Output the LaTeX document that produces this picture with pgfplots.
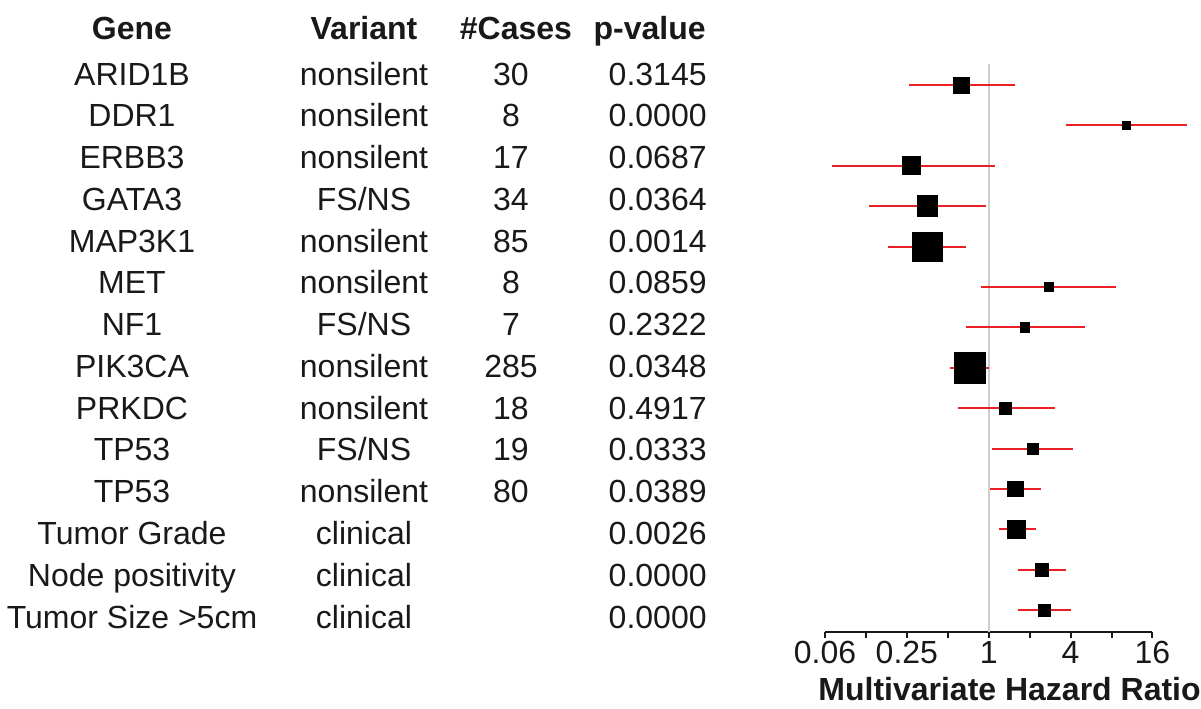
\documentclass[border=0pt]{standalone}
\usepackage{pgfplots}
\pgfplotsset{compat=1.18}
\usepackage{pgfplotstable}
\usepackage{fontspec}
\setmainfont{Liberation Sans}
\definecolor{ciRed}{RGB}{235,32,38}
\definecolor{refGray}{RGB}{205,205,205}
\definecolor{txt}{RGB}{25,25,25}

% y: row index (14 = top), est/lo/hi in log2(HR), sz = half side of square (pt)
\pgfplotstableread{
y   est    lo     hi     sz
14  -0.66  -1.94  0.65   4.0
13  3.37   1.895  4.85   2.0
12  -1.88  -3.82  0.16   4.5
11  -1.50  -2.93  -0.07  5.2
10  -1.50  -2.46  -0.55  7.3
9   1.46   -0.20  3.11   2.2
8   0.885  -0.55  2.34   2.3
7   -0.46  -0.95  0.00   7.8
6   0.41   -0.76  1.63   3.1
5   1.07   0.07   2.05   2.8
4   0.65   0.02   1.27   3.8
3   0.68   0.24   1.15   4.4
2   1.29   0.71   1.88   3.3
1   1.36   0.71   2.02   3.0
}\forest

\newcommand{\rowtxt}[5]{%
  \pgfmathsetmacro{\yy}{-(42.5+(#1-1)*20.885)}%
  \node[anchor=base,inner sep=0pt] at (66pt,\yy pt) {#2};
  \node[anchor=base,inner sep=0pt] at (182pt,\yy pt) {#3};
  \node[anchor=base,inner sep=0pt] at (255.5pt,\yy pt) {#4};
  \node[anchor=base east,inner sep=0pt] at (353.5pt,\yy pt) {#5};
}

\begin{document}
\begin{tikzpicture}[font=\fontsize{16}{19}\selectfont, text=txt]
\useasboundingbox (0,0) rectangle (600.5pt,-354pt);
\begin{axis}[
  at={(412.5pt,-316pt)}, anchor=south west,
  scale only axis,
  width=163.75pt, height=284pt,
  xmin=-4, xmax=4, ymin=0.463, ymax=14.52,
  clip=false,
  axis x line*=bottom, axis y line=none,
  axis line style={line width=1pt, txt},
  xtick={-4,-2,0,2,4},
  xticklabels={0.06,0.25,1,4,16},
  minor xtick={-3,-1,1,3},
  tick align=outside,
  major tick length=3pt, minor tick length=3pt,
  tick style={line width=1pt, txt},
  /pgf/number format/assume math mode=true,
  xticklabel style={font=\fontsize{16}{19}\selectfont, text=txt, anchor=base, inner sep=0pt, yshift=-12.5pt},
]
\addplot[refGray, line width=1pt] coordinates {(0,0.463) (0,14.52)};
\addplot[
  scatter, only marks, mark=square*,
  scatter/use mapped color={draw=black, fill=black},
  point meta=\thisrow{sz},
  visualization depends on={\thisrow{sz} \as \msz},
  scatter/@pre marker code/.append style={/tikz/mark size=\msz},
  error bars/.cd, x dir=both, x explicit,
  error mark=none,
  error bar style={ciRed, line width=1pt},
] table[x=est, y=y,
        x error plus expr=\thisrow{hi}-\thisrow{est},
        x error minus expr=\thisrow{est}-\thisrow{lo}] {\forest};
\end{axis}
\node[anchor=base west, inner sep=0pt, font=\fontsize{16}{19}\selectfont\bfseries] at (409pt,-350pt) {Multivariate Hazard Ratio};
% table headers
\begin{scope}[font=\fontsize{16}{19}\selectfont\bfseries]
\node[anchor=base,inner sep=0pt] at (66pt,-19.5pt) {Gene};
\node[anchor=base,inner sep=0pt] at (182pt,-19.5pt) {Variant};
\node[anchor=base,inner sep=0pt] at (258pt,-19.5pt) {\#Cases};
\node[anchor=base east,inner sep=0pt] at (353pt,-19.5pt) {p-value};
\end{scope}
\rowtxt{1}{ARID1B}{nonsilent}{30}{0.3145}
\rowtxt{2}{DDR1}{nonsilent}{8}{0.0000}
\rowtxt{3}{ERBB3}{nonsilent}{17}{0.0687}
\rowtxt{4}{GATA3}{FS/NS}{34}{0.0364}
\rowtxt{5}{MAP3K1}{nonsilent}{85}{0.0014}
\rowtxt{6}{MET}{nonsilent}{8}{0.0859}
\rowtxt{7}{NF1}{FS/NS}{7}{0.2322}
\rowtxt{8}{PIK3CA}{nonsilent}{285}{0.0348}
\rowtxt{9}{PRKDC}{nonsilent}{18}{0.4917}
\rowtxt{10}{TP53}{FS/NS}{19}{0.0333}
\rowtxt{11}{TP53}{nonsilent}{80}{0.0389}
\rowtxt{12}{Tumor Grade}{clinical}{}{0.0026}
\rowtxt{13}{Node positivity}{clinical}{}{0.0000}
\rowtxt{14}{Tumor Size >5cm}{clinical}{}{0.0000}
\end{tikzpicture}
\end{document}
